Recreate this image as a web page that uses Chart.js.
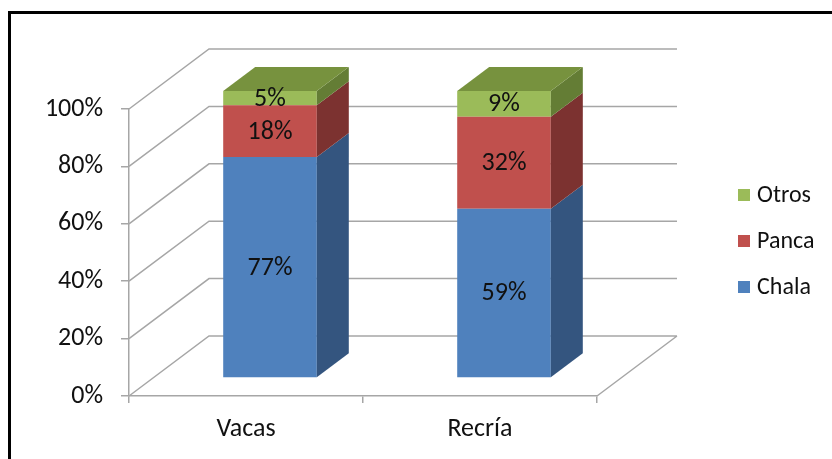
<!DOCTYPE html>
<html>
<head>
<meta charset="utf-8">
<script src="https://cdn.jsdelivr.net/npm/chart.js@4/dist/chart.umd.min.js"></script>
<style>
  html, body { margin: 0; padding: 0; background: #fff; }
  #wrap { width: 832px; height: 459px; }
</style>
</head>
<body>
<div id="wrap"><canvas id="chart" width="832" height="459"></canvas></div>
<script>
'use strict';
// ---- data ----
const categories = ['Vacas', 'Recría'];
const chalaValues = [77, 59];
const pancaValues = [18, 32];
const otrosValues = [5, 9];
const yMax = 100;
const yStep = 20;

// ---- look ----
const FONT = 'Carlito, "Liberation Sans", Arial, sans-serif';
const GRID = '#a6a6a6';
// depth vector of the 3D box, and the slice of that depth the bars occupy
const DEPTH = { dx: 80, dy: -60 };
const BAR_FRONT = 0.3;
const BAR_BACK = 0.7;

// Excel-like 3D box: back wall, side wall, floor, bar sides/tops and labels
const box3d = {
  id: 'box3d',
  beforeDraw(chart) {
    const ctx = chart.ctx;
    ctx.save();
    ctx.strokeStyle = '#000';
    ctx.lineWidth = 3;
    ctx.strokeRect(9.5, 12.5, 900, 500);
    ctx.restore();
  },
  beforeDatasetsDraw(chart) {
    const { ctx, chartArea: a, scales: { y } } = chart;
    ctx.save();
    ctx.strokeStyle = GRID;
    ctx.lineWidth = 1.5;
    ctx.beginPath();
    y.ticks.forEach(t => {
      const py = y.getPixelForValue(t.value);
      ctx.moveTo(a.left, py);
      ctx.lineTo(a.left + DEPTH.dx, py + DEPTH.dy);
      ctx.lineTo(a.right + DEPTH.dx, py + DEPTH.dy);
    });
    ctx.moveTo(a.right, a.bottom);
    ctx.lineTo(a.right + DEPTH.dx, a.bottom + DEPTH.dy);
    ctx.stroke();
    ctx.restore();
    // push the bars back into the box
    ctx.save();
    ctx.translate(DEPTH.dx * BAR_FRONT, DEPTH.dy * BAR_FRONT);
  },
  afterDatasetsDraw(chart) {
    const ctx = chart.ctx;
    const sx = DEPTH.dx * (BAR_BACK - BAR_FRONT);
    const sy = DEPTH.dy * (BAR_BACK - BAR_FRONT);
    const metas = chart.getSortedVisibleDatasetMetas();
    const topIndex = Math.max(...metas.map(m => m.index));
    metas.forEach(meta => {
      const ds = chart.data.datasets[meta.index];
      meta.data.forEach(bar => {
        const { x, y, base, width } = bar.getProps(['x', 'y', 'base', 'width'], true);
        const x0 = x - width / 2, x1 = x + width / 2;
        ctx.fillStyle = ds.sideColor;
        ctx.beginPath();
        ctx.moveTo(x1, y);
        ctx.lineTo(x1 + sx, y + sy);
        ctx.lineTo(x1 + sx, base + sy);
        ctx.lineTo(x1, base);
        ctx.closePath();
        ctx.fill();
        if (meta.index === topIndex) {
          ctx.fillStyle = ds.topColor;
          ctx.beginPath();
          ctx.moveTo(x0, y);
          ctx.lineTo(x1, y);
          ctx.lineTo(x1 + sx, y + sy);
          ctx.lineTo(x0 + sx, y + sy);
          ctx.closePath();
          ctx.fill();
        }
      });
    });
    ctx.fillStyle = '#111';
    ctx.font = '26px ' + FONT;
    ctx.textAlign = 'center';
    ctx.textBaseline = 'middle';
    metas.forEach(meta => {
      const ds = chart.data.datasets[meta.index];
      meta.data.forEach((bar, i) => {
        const { x, y, base } = bar.getProps(['x', 'y', 'base'], true);
        ctx.fillText(ds.data[i] + '%', x, (y + base) / 2 + 1);
      });
    });
    ctx.restore();
  },
  afterDraw(chart) {
    const ctx = chart.ctx;
    const items = chart.data.datasets.slice().reverse();
    ctx.save();
    ctx.font = '24px ' + FONT;
    ctx.textAlign = 'left';
    ctx.textBaseline = 'middle';
    items.forEach((ds, k) => {
      const cy = 195 + k * 46;
      ctx.fillStyle = ds.backgroundColor;
      ctx.fillRect(738, cy - 6, 12, 12);
      ctx.fillStyle = '#111';
      ctx.fillText(ds.label, 757, cy + 1);
    });
    ctx.restore();
  }
};

new Chart(document.getElementById('chart'), {
  type: 'bar',
  data: {
    labels: categories,
    datasets: [
      { label: 'Chala', data: chalaValues, backgroundColor: '#4f81bd', sideColor: '#34557f', topColor: '#4a77ad' },
      { label: 'Panca', data: pancaValues, backgroundColor: '#c0504d', sideColor: '#7c3230', topColor: '#a84744' },
      { label: 'Otros', data: otrosValues, backgroundColor: '#9bbb59', sideColor: '#647d35', topColor: '#77923e' },
    ],
  },
  options: {
    responsive: false,
    animation: false,
    layout: { padding: { top: 109, right: 235, bottom: 23, left: 0 } },
    datasets: { bar: { categoryPercentage: 1, barPercentage: 0.4, borderWidth: 0, clip: false } },
    plugins: { legend: { display: false }, tooltip: { enabled: false } },
    scales: {
      x: {
        stacked: true,
        afterFit: s => { s.height = 40; },
        grid: { drawOnChartArea: false, color: GRID, lineWidth: 1.5, tickLength: 7 },
        border: { color: GRID, width: 1.5 },
        ticks: { color: '#111', padding: 11, font: { family: FONT, size: 26 } },
      },
      y: {
        stacked: true,
        min: 0,
        max: yMax,
        afterFit: s => { s.width = 129; },
        grid: { drawOnChartArea: false, color: GRID, lineWidth: 1.5, tickLength: 8 },
        border: { color: GRID, width: 1.5 },
        ticks: { stepSize: yStep, color: '#111', padding: 18, font: { family: FONT, size: 26 }, callback: v => v + '%' },
      },
    },
  },
  plugins: [box3d],
});
</script>
</body>
</html>
